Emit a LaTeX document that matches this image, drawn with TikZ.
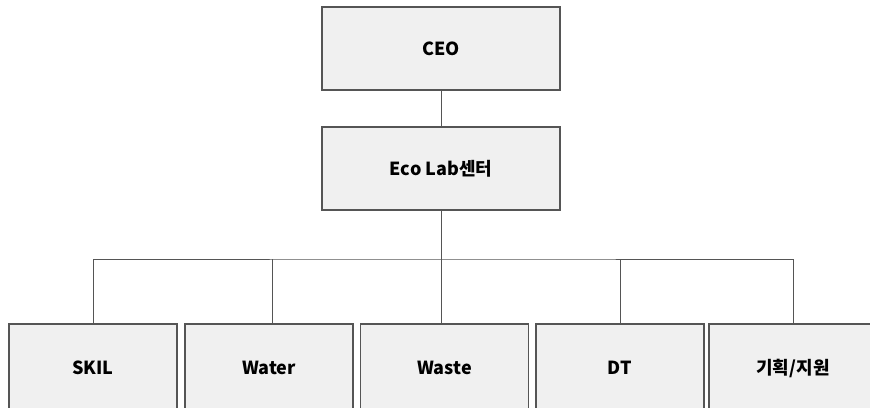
\documentclass[tikz,border=0pt]{standalone}
\usepackage{fontspec}
\setmainfont{Noto Sans CJK KR}
\usepackage{tikz}
\usetikzlibrary{positioning}
\definecolor{boxfill}{HTML}{F0F0F0}
\definecolor{boxline}{HTML}{555555}

\begin{document}
\begin{tikzpicture}[x=1pt,y=1pt]
                    \tikzstyle{every node}+=[inner sep=0pt]
                    \tikzstyle{orgbox}=[draw=boxline, fill=boxfill, line width=1.4pt, font=\fontsize{18}{21}\selectfont\bfseries]
                    \tikzstyle{topbox}=[orgbox, minimum width=238, minimum height=83]
                    \tikzstyle{teambox}=[orgbox, minimum width=168, minimum height=88]
                    \tikzstyle{conn}=[draw=boxline, line width=1pt]
                    \clip (0,0) rectangle (870,-407);
                    \useasboundingbox (0,0) rectangle (870,-407);
                    % top
                    \node [topbox] (ceo) at (441,-48.5) {CEO};
                    \node [topbox] (eco) at (441,-168.5) {Eco Lab센터};
                    % teams
                    \node [teambox] (skil) at (93,-368) {SKIL};
                    \node [teambox] (water) at (269,-368) {Water};
                    \node [teambox] (waste) at (444.5,-368) {Waste};
                    \node [teambox] (dt) at (620,-368) {DT};
                    \node [teambox] (plan) at (793,-368) {기획/지원};
                    \coordinate (bus) at (442,-259);
                    % lines
                    \draw [conn] (ceo.south) -- (eco.north);
                    \draw [conn] (eco.south) -- (eco.south |- waste.north);
                    \draw [conn] (skil.north) |- (bus) -| (plan.north);
                    \draw [conn] ([xshift=3]water.north) -- ([xshift=3]water.north |- bus);
                    \draw [conn] (dt.north) -- (dt.north |- bus);
\end{tikzpicture}
\end{document}
